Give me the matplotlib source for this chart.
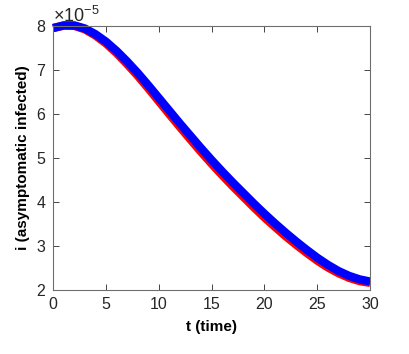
import matplotlib
matplotlib.use("Agg")
import matplotlib.pyplot as plt
import numpy as np
from matplotlib.ticker import ScalarFormatter

plt.rcParams['font.family'] = ['Liberation Sans', 'DejaVu Sans']
plt.rcParams['mathtext.fontset'] = 'custom'
plt.rcParams['mathtext.rm'] = 'Liberation Sans'
plt.rcParams['mathtext.it'] = 'Liberation Sans'

# time grid and the two solutions (values in units of 1e-5)
t = np.arange(0, 31)
i_blue = [7.95, 8.01, 8.01, 7.94, 7.81, 7.64, 7.43, 7.19, 6.93, 6.65,
          6.36, 6.07, 5.78, 5.50, 5.22, 4.95, 4.69, 4.44, 4.20, 3.96,
          3.73, 3.51, 3.30, 3.10, 2.91, 2.73, 2.57, 2.43, 2.32, 2.24, 2.19]
i_red = [7.95, 8.005, 8.00, 7.92, 7.78, 7.60, 7.38, 7.13, 6.865, 6.58,
         6.285, 5.99, 5.70, 5.415, 5.135, 4.865, 4.605, 4.355, 4.115, 3.875,
         3.645, 3.43, 3.22, 3.025, 2.84, 2.665, 2.51, 2.38, 2.275, 2.20, 2.16]

xticks = [0, 5, 10, 15, 20, 25, 30]
yticks = [2, 3, 4, 5, 6, 7, 8]

fig = plt.figure(figsize=(4.09, 3.54), dpi=100)
ax = fig.add_axes([0.130, 0.181, 0.775, 0.746])

ax.plot(t, np.array(i_red) * 1e-5, color='red', lw=6, solid_capstyle='butt', clip_on=False)
ax.plot(t, np.array(i_blue) * 1e-5, color='blue', lw=6, solid_capstyle='butt', clip_on=False)

ax.set_xlim(0, 30)
ax.set_ylim(2e-5, 8e-5)
ax.set_xticks(xticks)
ax.set_yticks([v * 1e-5 for v in yticks])

fmt = ScalarFormatter(useMathText=True)
fmt.set_powerlimits((0, 0))
ax.yaxis.set_major_formatter(fmt)
ax.yaxis.get_offset_text().set_fontsize(13)

ax.tick_params(direction='in', length=4, width=0.6, colors='#262626',
               labelsize=11.5, top=True, right=True, pad=5)
for s in ax.spines.values():
    s.set_color('#6e6e6e')
    s.set_linewidth(0.8)

ax.set_xlabel('t (time)', fontsize=11, fontweight='bold', labelpad=6)
ax.set_ylabel('i (asymptomatic infected)', fontsize=11, fontweight='bold', labelpad=4)

fig.savefig('out.png', dpi=100)
